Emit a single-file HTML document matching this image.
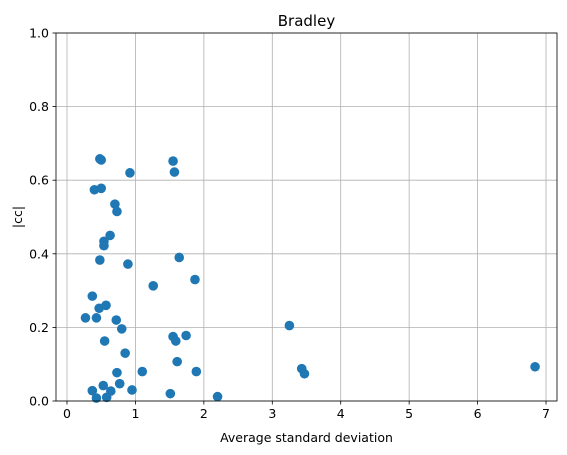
<!DOCTYPE html>
<html><head><meta charset="utf-8"><style>
body{margin:0;background:#fff;}
svg{display:block;font-family:"DejaVu Sans","Liberation Sans",sans-serif;}
</style></head><body>
<svg id="chart" width="567" height="455" viewBox="0 0 567 455">
<rect width="567" height="455" fill="#fff"/>
<g id="grid"></g><g id="pts"></g><g id="axes"></g>
</svg>
<script>
const xs=[0.48,0.50,0.92,1.55,1.57,0.40,0.50,0.70,0.73,0.63,0.54,0.54,0.48,0.89,1.64,1.26,1.87,0.37,0.47,0.57,0.27,0.43,0.72,0.80,0.55,0.85,1.55,1.59,1.74,1.61,3.25,1.10,0.73,1.89,0.77,0.37,0.53,0.64,0.95,1.51,2.20,0.43,0.58,3.43,3.47,6.84];
const ys=[0.658,0.655,0.620,0.652,0.622,0.574,0.578,0.535,0.515,0.450,0.434,0.422,0.383,0.372,0.390,0.313,0.330,0.285,0.252,0.260,0.226,0.226,0.220,0.196,0.163,0.130,0.175,0.163,0.178,0.107,0.205,0.080,0.077,0.080,0.047,0.028,0.042,0.027,0.030,0.020,0.012,0.008,0.010,0.088,0.074,0.093];
const xTicks=[0,1,2,3,4,5,6,7];
const yTicks=[0,0.2,0.4,0.6,0.8,1.0];
const L=56,R=557,T=33,B=401;
const X=v=>67+v*68.43, Y=v=>B-v*(B-T);
const NS="http://www.w3.org/2000/svg";
function mk(p,t,a){const e=document.createElementNS(NS,t);for(const k in a)e.setAttribute(k,a[k]);p.appendChild(e);return e;}
const g=document.getElementById('grid'),pg=document.getElementById('pts'),ax=document.getElementById('axes');
xTicks.forEach(t=>{
 const l=mk(g,'line',{x1:X(t),x2:X(t),y1:T,y2:B,stroke:'#b0b0b0','stroke-width':0.8});
 
 
 mk(ax,'line',{x1:X(t),x2:X(t),y1:B,y2:B+3.5,stroke:'#000','stroke-width':0.8});
 const tx=mk(ax,'text',{x:X(t),y:B+17,'text-anchor':'middle','font-size':12.5,fill:'#000'});tx.textContent=t;
 
 
});
yTicks.forEach(t=>{
 const l=mk(g,'line',{x1:L,x2:R,y1:Y(t),y2:Y(t),stroke:'#b0b0b0','stroke-width':0.8});
 
 
 mk(ax,'line',{x1:L-3.5,x2:L,y1:Y(t),y2:Y(t),stroke:'#000','stroke-width':0.8});
 const tx=mk(ax,'text',{x:L-7,y:Y(t)+4.5,'text-anchor':'end','font-size':12.5,fill:'#000'});tx.textContent=t.toFixed(1);
 
 
});
xs.forEach((x,i)=>{
 const c=mk(pg,'circle',{cx:X(x),cy:Y(ys[i]),r:4.8,fill:'#1f77b4'});
 
 
});
const fr=mk(ax,'rect',{x:L,y:T,width:R-L,height:B-T,fill:'none',stroke:'#000','stroke-width':0.8});


const tt=mk(ax,'text',{x:(L+R)/2,y:T-7,'text-anchor':'middle','font-size':15,fill:'#000'});tt.textContent='Bradley';


const xl=mk(ax,'text',{x:(L+R)/2,y:442,'text-anchor':'middle','font-size':12.5,fill:'#000'});xl.textContent='Average standard deviation';


const yl=mk(ax,'text',{x:0,y:0,'text-anchor':'middle','font-size':12.5,fill:'#000',transform:'translate(22,'+((T+B)/2)+') rotate(-90)'});yl.textContent='|cc|';


</script>
</body></html>
